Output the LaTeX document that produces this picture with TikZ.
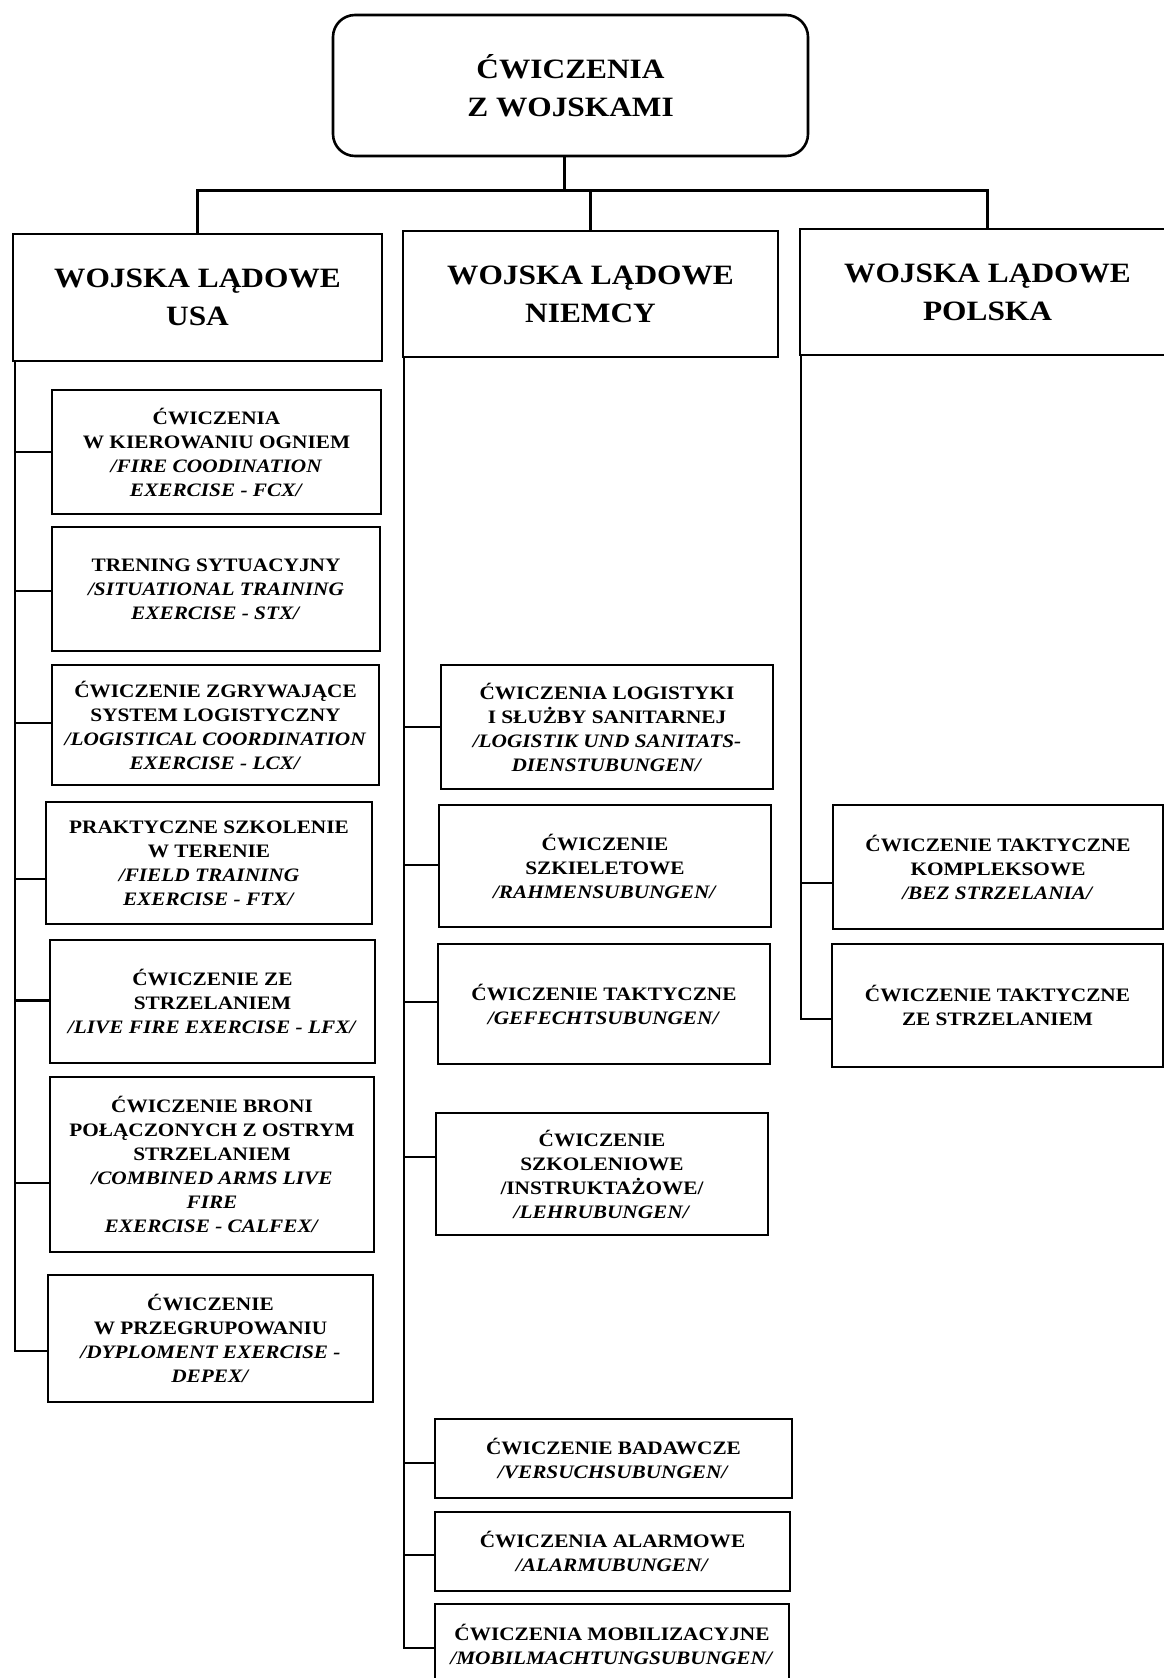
\documentclass[tikz,border=0pt]{standalone}
\usepackage{fontspec}
\setmainfont{Liberation Serif}[FakeStretch=1.12]
\usetikzlibrary{calc}

\newcommand\kidfont{\fontsize{19}{24}\selectfont\bfseries}
\newcommand\headfont{\fontsize{28}{38}\selectfont\bfseries}

\begin{document}
\begin{tikzpicture}[x=1pt,y=-1pt,
  box/.style={draw, line width=2.6pt, inner sep=0pt, align=center, font=\kidfont},
  headbox/.style={box, font=\headfont},
  conn/.style={line width=2.4pt, line cap=rect}]
\useasboundingbox (0,0) rectangle (1164,1678);
\fill[white] (0,0) rectangle (1164,1678);
\clip (0,0) rectangle (1164,1678);

% top of the hierarchy
\node[headbox, rounded corners=22pt, minimum width=475pt, minimum height=141pt] (top) at (570.5,85.5) {ĆWICZENIA\\Z WOJSKAMI};

% armies
\node[headbox, minimum width=369pt, minimum height=127pt] (usa) at (197.5,297.5) {WOJSKA LĄDOWE\\USA};
\node[headbox, minimum width=375pt, minimum height=126pt] (niemcy) at (590.5,294) {WOJSKA LĄDOWE\\NIEMCY};
\node[headbox, minimum width=375pt, minimum height=126pt] (polska) at (987.5,292) {WOJSKA LĄDOWE\\POLSKA};

% USA exercises
\node[box, minimum width=329pt, minimum height=124pt] (u1) at (216.5,452) {ĆWICZENIA\\W KIEROWANIU OGNIEM\\\textit{/FIRE COODINATION}\\\textit{EXERCISE - FCX/}};
\node[box, minimum width=328pt, minimum height=124pt] (u2) at (216,589) {TRENING SYTUACYJNY\\\textit{/SITUATIONAL TRAINING}\\\textit{EXERCISE - STX/}};
\node[box, minimum width=327pt, minimum height=120pt] (u3) at (215.5,725) {ĆWICZENIE ZGRYWAJĄCE\\SYSTEM LOGISTYCZNY\\\textit{/LOGISTICAL COORDINATION}\\\textit{EXERCISE - LCX/}};
\node[box, minimum width=326pt, minimum height=122pt] (u4) at (209,863) {PRAKTYCZNE SZKOLENIE\\W TERENIE\\\textit{/FIELD TRAINING}\\\textit{EXERCISE - FTX/}};
\node[box, minimum width=325pt, minimum height=123pt] (u5) at (212.5,1001.5) {ĆWICZENIE ZE\\STRZELANIEM\\\textit{/LIVE FIRE EXERCISE - LFX/}};
\node[box, minimum width=324pt, minimum height=175pt] (u6) at (212,1164.5) {ĆWICZENIE BRONI\\POŁĄCZONYCH Z OSTRYM\\STRZELANIEM\\\textit{/COMBINED ARMS LIVE}\\\textit{FIRE}\\\textit{EXERCISE - CALFEX/}};
\node[box, minimum width=325pt, minimum height=127pt] (u7) at (210.5,1338.5) {ĆWICZENIE\\W PRZEGRUPOWANIU\\\textit{/DYPLOMENT EXERCISE -}\\\textit{DEPEX/}};

% German exercises
\node[box, minimum width=332pt, minimum height=124pt] (n1) at (607,727) {ĆWICZENIA LOGISTYKI\\I SŁUŻBY SANITARNEJ\\\textit{/LOGISTIK UND SANITATS-}\\\textit{DIENSTUBUNGEN/}};
\node[box, minimum width=332pt, minimum height=122pt] (n2) at (605,866) {ĆWICZENIE\\SZKIELETOWE\\\textit{/RAHMENSUBUNGEN/}};
\node[box, minimum width=332pt, minimum height=120pt] (n3) at (604,1004) {ĆWICZENIE TAKTYCZNE\\\textit{/GEFECHTSUBUNGEN/}};
\node[box, minimum width=332pt, minimum height=122pt] (n4) at (602,1174) {ĆWICZENIE\\SZKOLENIOWE\\/INSTRUKTAŻOWE/\\\textit{/LEHRUBUNGEN/}};
\node[box, minimum width=357pt, minimum height=79pt] (n5) at (613.5,1458.5) {ĆWICZENIE BADAWCZE\\\textit{/VERSUCHSUBUNGEN/}};
\node[box, minimum width=355pt, minimum height=79pt] (n6) at (612.5,1551.5) {ĆWICZENIA ALARMOWE\\\textit{/ALARMUBUNGEN/}};
\node[box, minimum width=354pt, minimum height=81pt] (n7) at (612,1644.5) {ĆWICZENIA MOBILIZACYJNE\\\textit{/MOBILMACHTUNGSUBUNGEN/}};

% Polish exercises
\node[box, minimum width=330pt, minimum height=124pt] (p1) at (998,867) {ĆWICZENIE TAKTYCZNE\\KOMPLEKSOWE\\\textit{/BEZ STRZELANIA/}};
\node[box, minimum width=331pt, minimum height=123pt] (p2) at (997.5,1005.5) {ĆWICZENIE TAKTYCZNE\\ZE STRZELANIEM};

% top-level connectors
\coordinate (tb) at ($(top.south)+(-6,0)$);
\coordinate (bar) at ($(tb)+(0,33)$);
\draw[conn] (tb) -- (bar);
\draw[conn] (usa.north) |- (bar) -| (polska.north);
\draw[conn] (niemcy.north) -- (niemcy.north |- bar);

% trunk tops
\coordinate (lt) at ($(usa.south west)+(3,0)$);
\coordinate (mt) at ($(niemcy.south west)+(2,0)$);
\coordinate (rt) at ($(polska.south west)+(2,0)$);

% connector ends on the boxes
\coordinate (cu1) at ($(u1.west)+(0,0)$);
\coordinate (cu2) at ($(u2.west)+(0,2)$);
\coordinate (cu3) at ($(u3.west)+(0,-2)$);
\coordinate (cu4) at ($(u4.west)+(0,16)$);
\coordinate (cu5) at ($(u5.west)+(0,-1)$);
\coordinate (cu6) at ($(u6.west)+(0,18.5)$);
\coordinate (cu7) at ($(u7.west)+(0,12.5)$);
\coordinate (cn1) at ($(n1.west)+(0,0)$);
\coordinate (cn2) at ($(n2.west)+(0,-1)$);
\coordinate (cn3) at ($(n3.west)+(0,-2)$);
\coordinate (cn4) at ($(n4.west)+(0,-17)$);
\coordinate (cn5) at ($(n5.west)+(0,4.5)$);
\coordinate (cn6) at ($(n6.west)+(0,3.5)$);
\coordinate (cn7) at ($(n7.west)+(0,3.5)$);
\coordinate (cp1) at ($(p1.west)+(0,16)$);
\coordinate (cp2) at ($(p2.west)+(0,13.5)$);

% USA branch
\draw[conn] (lt) |- (cu7);
\foreach \c in {cu1,cu2,cu3,cu4,cu5,cu6}
  \draw[conn] (\c -| lt) -- (\c);

% German branch
\draw[conn] (mt) |- (cn7);
\foreach \c in {cn1,cn2,cn3,cn4,cn5,cn6}
  \draw[conn] (\c -| mt) -- (\c);

% Polish branch
\draw[conn] (rt) |- (cp2);
\draw[conn] (cp1 -| rt) -- (cp1);
\end{tikzpicture}
\end{document}
